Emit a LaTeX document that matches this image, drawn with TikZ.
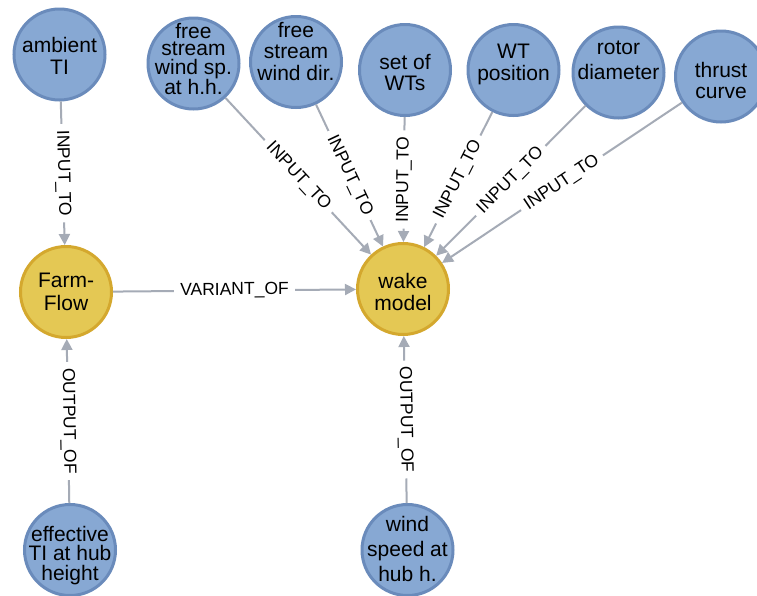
\documentclass[tikz,border=0pt]{standalone}
\usepackage{fontspec}
\setmainfont{Liberation Sans}
\usetikzlibrary{arrows.meta}
\definecolor{bfill}{RGB}{135,168,211}
\definecolor{bdraw}{RGB}{106,139,187}
\definecolor{yfill}{RGB}{228,200,84}
\definecolor{ydraw}{RGB}{212,168,46}
\definecolor{edgec}{HTML}{A5ABB6}
\tikzset{
  circ/.style={circle, line width=3pt, minimum size=91pt, inner sep=0pt},
  bluenode/.style={circ, draw=bdraw, fill=bfill},
  yellownode/.style={circ, draw=ydraw, fill=yfill},
  ln/.style={anchor=base, inner sep=0pt, text=black, font=\fontsize{21}{21}\selectfont},
  rel/.style={line width=2pt, draw=edgec, -{Triangle[length=11pt,width=11pt]}},
  rlab/.style={sloped, midway, fill=white, inner xsep=6pt, inner ysep=1pt, text=black,
    font=\fontsize{17.5}{18}\selectfont}
}
\begin{document}
\begin{tikzpicture}[x=1pt,y=-1pt]
\useasboundingbox[fill=white] (0,0) rectangle (757,595);
% nodes
\node[bluenode] (amb) at (59.5,54.5) {};
\node[bluenode] (fsw) at (193.5,63.5) {};
\node[bluenode] (fsd) at (296,62) {};
\node[bluenode] (set) at (405,70) {};
\node[bluenode] (wtp) at (513.5,70) {};
\node[bluenode] (rd) at (618.5,72.5) {};
\node[bluenode] (tc) at (721,76.5) {};
\node[yellownode] (ff) at (66,292) {};
\node[yellownode] (wm) at (403,289) {};
\node[bluenode] (eti) at (70,550) {};
\node[bluenode] (wsh) at (407.5,550) {};
% texts, one line per node
\node[ln] (amb-1) at (59.5,52.7) {ambient};
\node[ln] (amb-2) at (59.5,74) {TI};
\node[ln] (fsw-1) at (193.5,38.3) {free};
\node[ln] (fsw-2) at (193.5,55) {stream};
\node[ln] (fsw-3) at (193.5,74) {wind sp.};
\node[ln] (fsw-4) at (193.5,94.3) {at h.h.};
\node[ln] (fsd-1) at (296,37.3) {free};
\node[ln] (fsd-2) at (296,58.6) {stream};
\node[ln] (fsd-3) at (296,80) {wind dir.};
\node[ln] (set-1) at (405,69.3) {set of};
\node[ln] (set-2) at (405,90.7) {WTs};
\node[ln] (wtp-1) at (513.5,58.3) {WT};
\node[ln] (wtp-2) at (513.5,80) {position};
\node[ln] (rd-1) at (618.5,54.3) {rotor};
\node[ln] (rd-2) at (618.5,79.3) {diameter};
\node[ln] (tc-1) at (721,77.3) {thrust};
\node[ln] (tc-2) at (721,98.3) {curve};
\node[ln] (ff-1) at (66,287.3) {Farm-};
\node[ln] (ff-2) at (66,310) {Flow};
\node[ln] (wm-1) at (403,288.3) {wake};
\node[ln] (wm-2) at (403,310) {model};
\node[ln] (eti-1) at (70,541.7) {effective};
\node[ln] (eti-2) at (70,560.7) {TI at hub};
\node[ln] (eti-3) at (70,580) {height};
\node[ln] (wsh-1) at (407.5,531.7) {wind};
\node[ln] (wsh-2) at (407.5,556.7) {speed at};
\node[ln] (wsh-3) at (407.5,581.7) {hub h.};
% relations
\draw[rel] (amb) -- node[rlab] {INPUT\_TO} (ff);
\draw[rel] (fsw) -- node[rlab] {INPUT\_TO} (wm);
\draw[rel] (fsd) -- node[rlab] {INPUT\_TO} (wm);
\draw[rel] (set) -- node[rlab] {INPUT\_TO} (wm);
\draw[rel] (wtp) -- node[rlab] {INPUT\_TO} (wm);
\draw[rel] (rd) -- node[rlab] {INPUT\_TO} (wm);
\draw[rel] (tc) -- node[rlab] {INPUT\_TO} (wm);
\draw[rel] (ff) -- node[rlab] {VARIANT\_OF} (wm);
\draw[rel] (eti) -- node[rlab] {OUTPUT\_OF} (ff);
\draw[rel] (wsh) -- node[rlab] {OUTPUT\_OF} (wm);
\end{tikzpicture}
\end{document}
